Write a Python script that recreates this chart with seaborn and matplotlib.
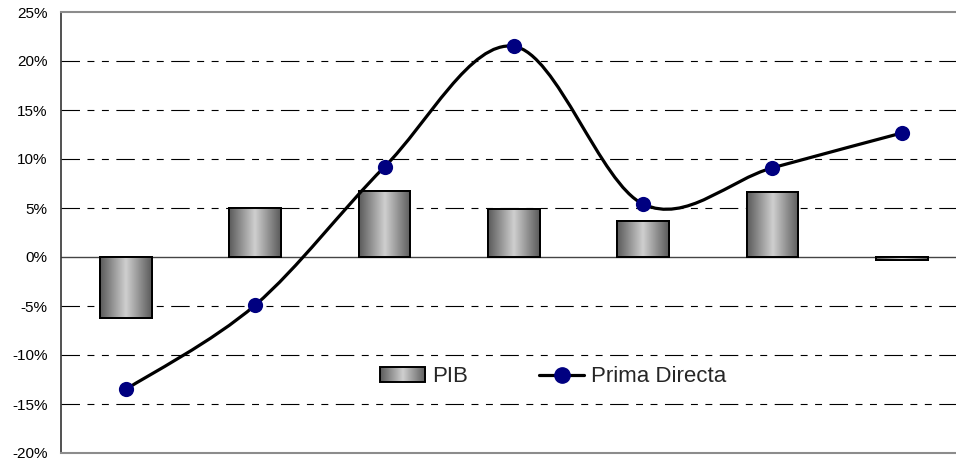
import numpy as np
import pandas as pd
import matplotlib
matplotlib.use("Agg")
import matplotlib.pyplot as plt
import seaborn as sns
from matplotlib.path import Path
from matplotlib.patches import PathPatch, Rectangle
from matplotlib.lines import Line2D
from matplotlib.colors import LinearSegmentedColormap
from matplotlib.legend_handler import HandlerBase
from matplotlib.image import BboxImage
from matplotlib.transforms import Bbox, TransformedBbox

# Series values (annual % change)
periodos = [0, 1, 2, 3, 4, 5, 6]
pib = [-6.2, 5.0, 6.7, 4.9, 3.7, 6.6, -0.3]
prima_directa = [-13.5, -4.9, 9.2, 21.5, 5.4, 9.1, 12.65]
y_ticks = [-20, -15, -10, -5, 0, 5, 10, 15, 20, 25]

sns.set_theme(style="white")
plt.rcParams["font.family"] = ["Liberation Sans", "DejaVu Sans"]
plt.rcParams["lines.scale_dashes"] = False

W, H = 956, 459
fig = plt.figure(figsize=(W / 100, H / 100), dpi=100)
ax = fig.add_axes([61.35 / W, 6 / H, 905 / W, 441 / H])

df = pd.DataFrame({"periodo": periodos, "PIB": pib})

# cylinder-like grey shading for the bars
grey_cyl = LinearSegmentedColormap.from_list(
    "grey_cyl", ["#5a5a5a", "#cfcfcf", "#5a5a5a"])
grad = np.linspace(0, 1, 256).reshape(1, -1)

sns.barplot(data=df, x="periodo", y="PIB", ax=ax, width=0.4,
            color="#a0a0a0", edgecolor="black", linewidth=1.4,
            saturation=1, zorder=3)

for bar in list(ax.patches):
    x0, y0 = bar.get_x(), bar.get_y()
    w, h = bar.get_width(), bar.get_height()
    ylo, yhi = sorted([y0, y0 + h])
    im = ax.imshow(grad, cmap=grey_cyl, aspect="auto", interpolation="bilinear",
                   extent=[x0, x0 + w, ylo, yhi], zorder=3.5)
    im.set_clip_path(bar)
    edge = Rectangle((x0, y0), w, h, facecolor="none", edgecolor="black",
                     linewidth=1.4, zorder=3.6)
    ax.add_patch(edge)


# smoothed line through the points (Catmull-Rom as cubic Bezier segments)
def smooth_path(xs, ys):
    pts = np.column_stack([xs, ys]).astype(float)
    ext = np.vstack([pts[0], pts, pts[-1]])
    verts = [pts[0]]
    codes = [Path.MOVETO]
    for i in range(len(pts) - 1):
        p0, p1, p2, p3 = ext[i], ext[i + 1], ext[i + 2], ext[i + 3]
        c1 = p1 + (p2 - p0) / 6.0
        c2 = p2 - (p3 - p1) / 6.0
        verts += [c1, c2, p2]
        codes += [Path.CURVE4] * 3
    return Path(verts, codes)


curve = PathPatch(smooth_path(periodos, prima_directa), facecolor="none",
                  edgecolor="black", linewidth=2.3, zorder=5,
                  capstyle="round", joinstyle="round")
ax.add_patch(curve)

sns.scatterplot(x=periodos, y=prima_directa, ax=ax, s=120, color="#000080",
                edgecolor="#000080", linewidth=0, zorder=6, legend=False)

# axes styling
ax.set_xlim(-0.5, 6.5)
ax.set_ylim(-20, 25)
ax.set_yticks(y_ticks)
ax.set_yticklabels([f"{v}%" for v in y_ticks], fontsize=11, color="black")
ax.set_xticks([])
ax.set_xlabel("")
ax.set_ylabel("")
ax.tick_params(axis="y", length=0, pad=10)

for v in y_ticks:
    if v in (-20, 25):
        continue
    if v == 0:
        ax.axhline(0, color="#444444", linewidth=1.0, zorder=2)
    else:
        ax.axhline(v, color="black", linewidth=0.8, zorder=1,
                   linestyle=(0, (13.3, 5.4, 5.0, 5.4, 5.0, 5.4)))

for side in ("top", "bottom", "right"):
    ax.spines[side].set_color("#8c8c8c")
    ax.spines[side].set_linewidth(1.5)
ax.spines["left"].set_color("#333333")
ax.spines["left"].set_linewidth(1.2)


class GradientBoxHandler(HandlerBase):
    def create_artists(self, legend, orig_handle, xdescent, ydescent,
                       width, height, fontsize, trans):
        box = Bbox.from_bounds(-xdescent, -ydescent, width, height)
        img = BboxImage(TransformedBbox(box, trans), cmap=grey_cyl,
                        interpolation="bilinear")
        img.set_data(grad)
        rect = Rectangle((-xdescent, -ydescent), width, height,
                         facecolor="none", edgecolor="black",
                         linewidth=1.4, transform=trans)
        return [img, rect]


pib_handle = Rectangle((0, 0), 1, 1, facecolor="#a0a0a0", edgecolor="black")
prima_handle = Line2D([], [], color="black", linewidth=2.3, marker="o",
                      markersize=11, markerfacecolor="#000080",
                      markeredgecolor="#000080")

fig.legend([pib_handle, prima_handle], ["PIB", "Prima Directa"],
           handler_map={Rectangle: GradientBoxHandler()},
           loc="center", bbox_to_anchor=(553 / W, 1 - 377 / H),
           ncol=2, frameon=False, fontsize=16, handlelength=2.05,
           handleheight=0.65, handletextpad=0.3, columnspacing=3.2)

fig.savefig("out.png", dpi=100)
